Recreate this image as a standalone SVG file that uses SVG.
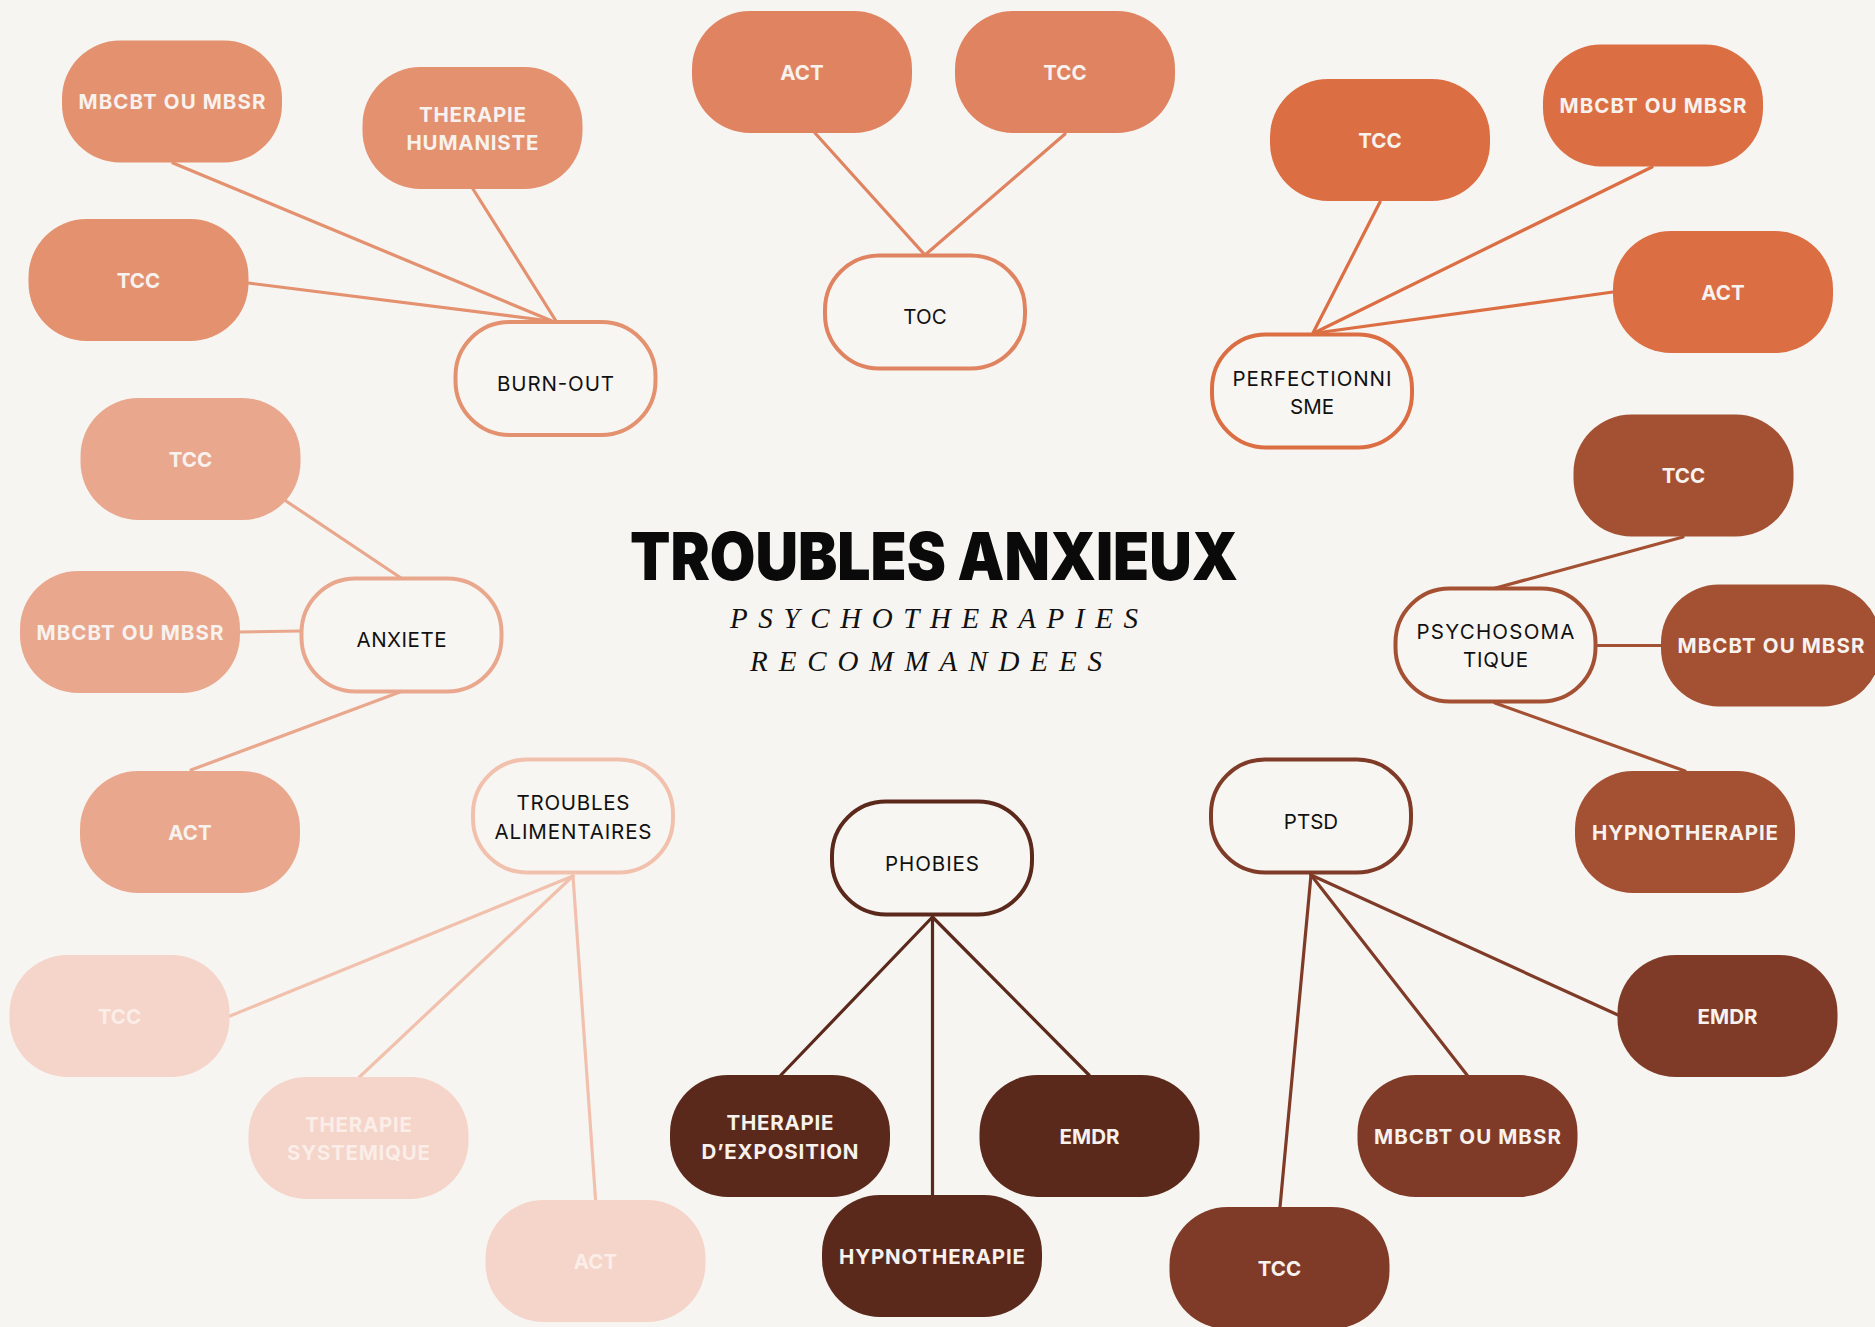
<svg xmlns="http://www.w3.org/2000/svg" width="1875" height="1327" viewBox="0 0 1875 1327">
<style>
.bg{fill:#F7F5F1}
.fl{stroke:none}
.ol{fill:#F8F6F2;stroke-width:4}
.lw{font-family:Inter,"Open Sans",sans-serif;font-weight:700;font-size:20.5px;fill:#F8F2EE;text-anchor:middle}
.lk{font-family:Inter,"Open Sans",sans-serif;font-weight:400;font-size:20.5px;fill:#111;text-anchor:middle}
.lwp{fill:#FBEDE7}
.cn line{stroke-width:3.2;stroke-linecap:round}
.g1{fill:#E3916F}.s1{stroke:#E3916F}
.g2{fill:#E08360}.s2{stroke:#E08360}
.g3{fill:#DC6E44}.s3{stroke:#DC6E44}
.g4{fill:#E9A88E}.s4{stroke:#E9A88E}
.g5{fill:#F5D5CA}.s5{stroke:#F1C1AE}
.g6{fill:#5B291C}.s6{stroke:#5B291C}
.g7{fill:#7F3B27}.s7{stroke:#7F3B27}
.g8{fill:#A35033}.s8{stroke:#A35033}
</style>
<rect class="bg" x="0" y="0" width="1875" height="1327"/>

<g id="connectors" class="cn">
  <line class="s1" x1="173" y1="163" x2="552" y2="321"/>
  <line class="s1" x1="473" y1="189" x2="556" y2="321"/>
  <line class="s1" x1="248" y1="283" x2="550" y2="321"/>
  <line class="s2" x1="815" y1="133" x2="925" y2="255"/>
  <line class="s2" x1="1065" y1="134" x2="925" y2="255"/>
  <line class="s3" x1="1380" y1="202" x2="1313" y2="333"/>
  <line class="s3" x1="1652" y1="167" x2="1314" y2="333"/>
  <line class="s3" x1="1613" y1="292" x2="1316" y2="333"/>
  <line class="s4" x1="286" y1="501" x2="401" y2="578"/>
  <line class="s4" x1="240" y1="632" x2="301" y2="631"/>
  <line class="s4" x1="191" y1="770" x2="400" y2="692"/>
  <line class="s5" x1="573" y1="876" x2="230" y2="1016"/>
  <line class="s5" x1="573" y1="876" x2="359.5" y2="1077"/>
  <line class="s5" x1="573" y1="876" x2="595.5" y2="1199"/>
  <line class="s6" x1="932.5" y1="917" x2="781" y2="1075"/>
  <line class="s6" x1="932.5" y1="917" x2="932.5" y2="1195"/>
  <line class="s6" x1="932.5" y1="917" x2="1089" y2="1075"/>
  <line class="s7" x1="1311" y1="875" x2="1280" y2="1207"/>
  <line class="s7" x1="1311" y1="875" x2="1467" y2="1075"/>
  <line class="s7" x1="1311" y1="875" x2="1618" y2="1015"/>
  <line class="s8" x1="1683" y1="537" x2="1492" y2="589"/>
  <line class="s8" x1="1598" y1="645.5" x2="1661" y2="645.5"/>
  <line class="s8" x1="1495" y1="703" x2="1685" y2="771"/>
</g>

<g id="title">
  <text x="934" y="580" font-family="Inter, 'Liberation Sans', sans-serif" font-weight="900" font-size="66" fill="#0A0A0A" text-anchor="middle" textLength="608" lengthAdjust="spacingAndGlyphs">TROUBLES ANXIEUX</text>
  <text x="730" y="628" font-family="'Liberation Serif', serif" font-style="italic" font-size="29" fill="#111" textLength="408" lengthAdjust="spacing">PSYCHOTHERAPIES</text>
  <text x="750" y="671" font-family="'Liberation Serif', serif" font-style="italic" font-size="29" fill="#111" textLength="352" lengthAdjust="spacing">RECOMMANDEES</text>
</g>

<!-- Burn-out group -->
<g id="burnout">
  <rect class="ol s1" x="455.5" y="322" width="200" height="113" rx="54"/>
  <text class="lk" x="555.5" y="390.5" textLength="117">BURN-OUT</text>
</g>
<g id="bo-mbcbt">
  <rect class="fl g1" x="62" y="40.5" width="220" height="122" rx="58"/>
  <text class="lw" x="172" y="109" textLength="187">MBCBT OU MBSR</text>
</g>
<g id="bo-humaniste">
  <rect class="fl g1" x="362.5" y="67" width="220" height="122" rx="58"/>
  <text class="lw" x="472.5" y="122" textLength="107">THERAPIE</text>
  <text class="lw" x="472.5" y="150" textLength="132">HUMANISTE</text>
</g>
<g id="bo-tcc">
  <rect class="fl g1" x="28.5" y="219" width="220" height="122" rx="58"/>
  <text class="lw" x="138.5" y="287.5">TCC</text>
</g>

<!-- TOC group -->
<g id="toc">
  <rect class="ol s2" x="825" y="255.5" width="200" height="113" rx="54"/>
  <text class="lk" x="925" y="323.5">TOC</text>
</g>
<g id="toc-act">
  <rect class="fl g2" x="692" y="11" width="220" height="122" rx="58"/>
  <text class="lw" x="802" y="79.5">ACT</text>
</g>
<g id="toc-tcc">
  <rect class="fl g2" x="955" y="11" width="220" height="122" rx="58"/>
  <text class="lw" x="1065" y="79.5">TCC</text>
</g>

<!-- Perfectionnisme group -->
<g id="perfectionnisme">
  <rect class="ol s3" x="1212" y="334.5" width="200" height="113" rx="54"/>
  <text class="lk" x="1312" y="385.5" textLength="159">PERFECTIONNI</text>
  <text class="lk" x="1312" y="413.5">SME</text>
</g>
<g id="pf-tcc">
  <rect class="fl g3" x="1270" y="79" width="220" height="122" rx="58"/>
  <text class="lw" x="1380" y="147.5">TCC</text>
</g>
<g id="pf-mbcbt">
  <rect class="fl g3" x="1543" y="44.5" width="220" height="122" rx="58"/>
  <text class="lw" x="1653" y="113" textLength="187">MBCBT OU MBSR</text>
</g>
<g id="pf-act">
  <rect class="fl g3" x="1613" y="231" width="220" height="122" rx="58"/>
  <text class="lw" x="1723" y="299.5">ACT</text>
</g>

<!-- Anxiete group -->
<g id="anxiete">
  <rect class="ol s4" x="301.5" y="578.5" width="200" height="113" rx="54"/>
  <text class="lk" x="401.5" y="647" textLength="90">ANXIETE</text>
</g>
<g id="ax-tcc">
  <rect class="fl g4" x="80.5" y="398" width="220" height="122" rx="58"/>
  <text class="lw" x="190.5" y="466.5">TCC</text>
</g>
<g id="ax-mbcbt">
  <rect class="fl g4" x="20" y="571" width="220" height="122" rx="58"/>
  <text class="lw" x="130" y="639.5" textLength="187">MBCBT OU MBSR</text>
</g>
<g id="ax-act">
  <rect class="fl g4" x="80" y="771" width="220" height="122" rx="58"/>
  <text class="lw" x="190" y="839.5">ACT</text>
</g>

<!-- Troubles alimentaires group -->
<g id="troubles-alimentaires">
  <rect class="ol s5" x="473" y="759.5" width="200" height="113" rx="54"/>
  <text class="lk" x="573" y="810" textLength="113">TROUBLES</text>
  <text class="lk" x="573" y="839" textLength="157">ALIMENTAIRES</text>
</g>
<g id="ta-tcc">
  <rect class="fl g5" x="9.5" y="955" width="220" height="122" rx="58"/>
  <text class="lw lwp" x="119.5" y="1023.5">TCC</text>
</g>
<g id="ta-systemique">
  <rect class="fl g5" x="248.5" y="1077" width="220" height="122" rx="58"/>
  <text class="lw lwp" x="358.5" y="1132" textLength="107">THERAPIE</text>
  <text class="lw lwp" x="358.5" y="1160" textLength="143">SYSTEMIQUE</text>
</g>
<g id="ta-act">
  <rect class="fl g5" x="485.5" y="1200" width="220" height="122" rx="58"/>
  <text class="lw lwp" x="595.5" y="1268.5">ACT</text>
</g>

<!-- Phobies group -->
<g id="phobies">
  <rect class="ol s6" x="832" y="801.5" width="200" height="113" rx="54"/>
  <text class="lk" x="932" y="870.5" textLength="94">PHOBIES</text>
</g>
<g id="ph-exposition">
  <rect class="fl g6" x="670" y="1075" width="220" height="122" rx="58"/>
  <text class="lw" x="780" y="1130" textLength="107">THERAPIE</text>
  <text class="lw" x="780" y="1158.5" textLength="157">D’EXPOSITION</text>
</g>
<g id="ph-emdr">
  <rect class="fl g6" x="979.5" y="1075" width="220" height="122" rx="58"/>
  <text class="lw" x="1089.5" y="1143.5">EMDR</text>
</g>
<g id="ph-hypno">
  <rect class="fl g6" x="822" y="1195" width="220" height="122" rx="58"/>
  <text class="lw" x="932" y="1263.5" textLength="186">HYPNOTHERAPIE</text>
</g>

<!-- PTSD group -->
<g id="ptsd">
  <rect class="ol s7" x="1211" y="759.5" width="200" height="113" rx="54"/>
  <text class="lk" x="1311" y="828.5">PTSD</text>
</g>
<g id="pt-tcc">
  <rect class="fl g7" x="1169.5" y="1207" width="220" height="122" rx="58"/>
  <text class="lw" x="1279.5" y="1275.5">TCC</text>
</g>
<g id="pt-mbcbt">
  <rect class="fl g7" x="1357.5" y="1075" width="220" height="122" rx="58"/>
  <text class="lw" x="1467.5" y="1143.5" textLength="187">MBCBT OU MBSR</text>
</g>
<g id="pt-emdr">
  <rect class="fl g7" x="1617.5" y="955" width="220" height="122" rx="58"/>
  <text class="lw" x="1727.5" y="1023.5">EMDR</text>
</g>

<!-- Psychosomatique group -->
<g id="psychosomatique">
  <rect class="ol s8" x="1395.5" y="588.5" width="200" height="113" rx="54"/>
  <text class="lk" x="1495.5" y="639" textLength="158">PSYCHOSOMA</text>
  <text class="lk" x="1495.5" y="667" textLength="65">TIQUE</text>
</g>
<g id="ps-tcc">
  <rect class="fl g8" x="1573.5" y="414.5" width="220" height="122" rx="58"/>
  <text class="lw" x="1683.5" y="483">TCC</text>
</g>
<g id="ps-mbcbt">
  <rect class="fl g8" x="1661" y="584.5" width="220" height="122" rx="58"/>
  <text class="lw" x="1771" y="653" textLength="187">MBCBT OU MBSR</text>
</g>
<g id="ps-hypno">
  <rect class="fl g8" x="1575" y="771" width="220" height="122" rx="58"/>
  <text class="lw" x="1685" y="839.5" textLength="186">HYPNOTHERAPIE</text>
</g>
</svg>
